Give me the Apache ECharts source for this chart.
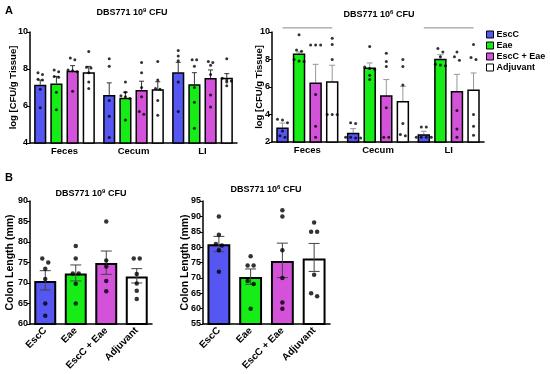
<!DOCTYPE html>
<html><head><meta charset="utf-8">
<script src="https://cdn.jsdelivr.net/npm/echarts@6/dist/echarts.min.js"></script>
<style>html,body{margin:0;padding:0;background:#fff}#c{width:550px;height:374px}</style>
</head><body><div id="c"></div>
<script>
const FONT = '"Liberation Sans", Arial, sans-serif';
const groups = ['EscC', 'Eae', 'EscC + Eae', 'Adjuvant'];
const colors = ['#5656f2', '#16ec16', '#d452da', '#ffffff'];
const catsA = ['Feces', 'Cecum', 'LI'];

// Panel A, 10^9 CFU  [group][category]
const a9Mean = [[7.15, 6.6, 7.82], [7.22, 6.45, 7.17], [7.9, 6.87, 7.51], [7.82, 6.9, 7.53]];
const a9Hi = [[7.4, 7.25, 8.36], [7.6, 6.75, 7.8], [8.18, 7.34, 7.95], [8.14, 7.31, 7.75]];
const a9Dots = [
  [[7.8, 7.7, 7.45, 7.4, 6.9, 5.9], [8.55, 8.15, 6.3, 5.45, 4.3], [9.0, 8.7, 8.45, 7.3, 5.7]],
  [[7.95, 7.85, 7.6, 7.55, 6.75, 5.8], [7.3, 6.75, 6.55, 6.5, 6.4, 5.25], [8.5, 8.5, 8.15, 7.0, 6.2, 4.8]],
  [[8.6, 8.5, 7.95, 7.9, 7.85, 6.8], [8.35, 7.8, 7.0, 6.5, 5.7, 5.55], [8.4, 8.35, 8.2, 7.7, 6.6, 5.95]],
  [[8.95, 8.1, 8.05, 7.8, 7.3, 6.95], [8.4, 7.4, 6.95, 6.9, 6.3, 5.5], [8.55, 7.5, 7.4, 7.35, 7.3, 7.1]]
];
// Panel A, 10^6 CFU
const a6Mean = [[3.05, 2.68, 2.56], [8.43, 7.41, 8.06], [6.32, 5.4, 5.71], [6.41, 4.98, 5.81]];
const a6Hi = [[3.38, 2.97, 2.78], [8.55, 7.75, 8.35], [7.65, 6.54, 6.92], [7.58, 6.05, 7.02]];
const a6Dots = [
  [[3.65, 3.6, 3.4, 2.8, 2.45, 2.35], [3.4, 3.35, 2.35, 2.3, 2.35, 2.3], [3.1, 3.1, 2.35, 2.35, 2.35, 2.35]],
  [[9.8, 8.7, 8.6, 8.0, 7.9, 7.85], [8.95, 7.45, 7.35, 7.3, 6.85, 6.55], [8.8, 8.55, 8.2, 7.65, 7.6, 7.55]],
  [[9.05, 9.05, 9.05, 5.45, 3.15, 2.35], [8.45, 7.85, 7.5, 4.5, 2.35, 2.35], [8.55, 8.2, 7.95, 4.3, 2.95, 2.35]],
  [[9.55, 9.1, 8.0, 4.0, 4.0, 4.0], [8.0, 7.5, 6.15, 3.35, 2.55, 2.45], [9.1, 8.15, 8.0, 4.0, 3.15, 2.5]]
];
const a6Sig = [0, 2]; // categories with significance bar (EscC vs Adjuvant)
const a6SigY = 10.3;

// Panel B, colon length
const b9Mean = [70.5, 72.3, 74.9, 71.6];
const b9Hi = [73.0, 74.4, 77.8, 73.5];
const b9Lo = [68.3, 70.5, 72.1, 70.0];
const b9Dots = [[76, 75, 73.5, 71, 65, 62], [79, 76, 72.3, 72.3, 69.8, 65], [85, 75.5, 74, 70.5, 68], [76, 76, 72.2, 69.9, 68.1, 66.1]];
const b6Mean = [80.9, 70.3, 75.5, 76.3];
const b6Hi = [83.5, 72.9, 81.3, 81.2];
const b6Lo = [78.5, 67.9, 70.1, 72.1];
const b6Dots = [[90, 84, 81, 80.5, 79, 72], [77, 74, 74, 69, 68, 60], [92, 90, 79, 70, 62, 60], [88, 85, 85, 71, 64, 65]];

const grids = [], xAxes = [], yAxes = [], series = [];

function addPanel(g, cats, ymin, ymax, yint, yname, nameGap, nameSize, labelSize, rotate) {
  const gi = grids.length;
  grids.push({left: g.left, top: g.top, width: g.width, height: g.height, containLabel: false});
  xAxes.push({
    type: 'category', gridIndex: gi, data: cats,
    axisLine: {onZero: false, lineStyle: {color: '#000', width: 1.5}},
    axisTick: {alignWithLabel: true, length: 3, lineStyle: {color: '#000', width: 1}},
    axisLabel: {color: '#000', fontFamily: FONT, fontWeight: 'bold', fontSize: labelSize, rotate: rotate, margin: rotate ? 5 : 3, interval: 0}
  });
  xAxes.push({type: 'value', gridIndex: gi, min: -0.5, max: cats.length - 0.5, show: false,
    axisLine: {onZero: false}});
  yAxes.push({
    type: 'value', gridIndex: gi, min: ymin, max: ymax, interval: yint,
    name: yname, nameLocation: 'middle', nameGap: nameGap, nameRotate: 90, nameMoveOverlap: false,
    nameTextStyle: {color: '#000', fontFamily: FONT, fontWeight: 'bold', fontSize: nameSize},
    axisLine: {show: true, onZero: false, lineStyle: {color: '#000', width: 1.5}},
    axisTick: {show: true, length: 3, lineStyle: {color: '#000', width: 1}},
    axisLabel: {color: '#000', fontFamily: FONT, fontWeight: 'bold', fontSize: 9, margin: 2},
    splitLine: {show: false}
  });
  return {gi: gi, xc: 2 * gi, xv: 2 * gi + 1, y: gi};
}

function swarm(vals, pxPerUnit, coll) {
  const idx = vals.map((v, i) => i).sort((a, b) => vals[b] - vals[a]);
  const off = new Array(vals.length).fill(0);
  let grp = [];
  const flush = () => { grp.forEach((j, k) => { off[j] = (k - (grp.length - 1) / 2) * coll; }); grp = []; };
  idx.forEach(j => {
    if (grp.length && (vals[grp[0]] - vals[j]) * pxPerUnit >= coll * 0.8) flush();
    grp.push(j);
  });
  flush();
  return off;
}

function errSeries(ax, data, color, cap, both, lw) {
  return {
    type: 'custom', xAxisIndex: ax.xv, yAxisIndex: ax.y, z: both ? 4 : 1, silent: true,
    data: data,
    renderItem: function (params, api) {
      const x = api.value(0);
      const ph = api.coord([x, api.value(2)]);
      const pl = api.coord([x, both ? api.value(3) : api.value(1)]);
      const st = {stroke: color, lineWidth: lw};
      const ch = [
        {type: 'line', shape: {x1: ph[0], y1: ph[1], x2: pl[0], y2: pl[1]}, style: st},
        {type: 'line', shape: {x1: ph[0] - cap, y1: ph[1], x2: ph[0] + cap, y2: ph[1]}, style: st}
      ];
      if (both) ch.push({type: 'line', shape: {x1: pl[0] - cap, y1: pl[1], x2: pl[0] + cap, y2: pl[1]}, style: st});
      return {type: 'group', children: ch};
    }
  };
}

function panelA(g, mean, hi, dots, ymin, ymax, yname, nameGap, errColor, cap, dotSize, coll) {
  const ax = addPanel(g, catsA, ymin, ymax, 2, yname, nameGap, 9.5, 9.5, 0);
  const n = groups.length, cg = 0.12, bg = 0.33;
  const w = (1 - cg) / (n + (n - 1) * bg);
  const offs = groups.map((_, s) => (s - (n - 1) / 2) * w * (1 + bg));
  const bandPx = g.width / catsA.length;
  const pxPerUnit = g.height / (ymax - ymin);
  const errData = [], dotData = [];
  groups.forEach((name, s) => {
    series.push({
      type: 'bar', name: name, xAxisIndex: ax.xc, yAxisIndex: ax.y, data: mean[s],
      barGap: (bg * 100) + '%', barCategoryGap: (cg * 100) + '%', z: 2,
      itemStyle: {color: colors[s], borderColor: '#000', borderWidth: 1.5}
    });
    catsA.forEach((c, ci) => {
      errData.push([ci + offs[s], mean[s][ci], hi[s][ci]]);
      const o = swarm(dots[s][ci], pxPerUnit, coll);
      dots[s][ci].forEach((v, k) => dotData.push([ci + offs[s] + o[k] / bandPx, v]));
    });
  });
  series.push(errSeries(ax, errData, errColor, cap, false, 1));
  series.push({type: 'scatter', xAxisIndex: ax.xv, yAxisIndex: ax.y, data: dotData, symbolSize: dotSize,
    itemStyle: {color: '#000'}, z: 5, silent: true});
  return {ax: ax, offs: offs};
}

function panelB(g, mean, hi, lo, dots, ymin, ymax, nameGap) {
  const ax = addPanel(g, groups, ymin, ymax, 5, 'Colon Length (mm)', nameGap, 10.5, 10, 45);
  const bandPx = g.width / groups.length;
  const pxPerUnit = g.height / (ymax - ymin);
  series.push({
    type: 'bar', xAxisIndex: ax.xc, yAxisIndex: ax.y, barCategoryGap: '28%', z: 2,
    data: mean.map((v, i) => ({value: v, itemStyle: {color: colors[i]}})),
    itemStyle: {borderColor: '#000', borderWidth: 2}
  });
  series.push(errSeries(ax, mean.map((v, i) => [i, v, hi[i], lo[i]]), '#444', 5.5, true, 1));
  const dotData = [];
  dots.forEach((arr, i) => {
    const o = swarm(arr, pxPerUnit, 6);
    arr.forEach((v, k) => dotData.push([i + o[k] / bandPx, v]));
  });
  series.push({type: 'scatter', xAxisIndex: ax.xv, yAxisIndex: ax.y, data: dotData, symbolSize: 4.5,
    itemStyle: {color: '#000'}, z: 5, silent: true});
}

panelA({left: 30, top: 32, width: 207, height: 111}, a9Mean, a9Hi, a9Dots, 4, 10, 'log [CFU/g Tissue]', 12, '#333', 2.5, 3, 4.5);
const pa6 = panelA({left: 272, top: 32, width: 212, height: 110}, a6Mean, a6Hi, a6Dots, 2, 10, 'log [CFU/g Tissue]', 8, '#999', 3, 3, 5);
panelB({left: 30, top: 201, width: 122, height: 123}, b9Mean, b9Hi, b9Lo, b9Dots, 60, 90, 14);
panelB({left: 203, top: 201, width: 127, height: 123}, b6Mean, b6Hi, b6Lo, b6Dots, 55, 95, 12);

// significance bars in A (10^6)
a6Sig.forEach(ci => {
  series.push({type: 'line', xAxisIndex: pa6.ax.xv, yAxisIndex: pa6.ax.y, clip: false, silent: true,
    symbol: 'none', lineStyle: {color: '#888', width: 1}, z: 3,
    data: [[ci + pa6.offs[0], a6SigY], [ci + pa6.offs[3], a6SigY]]});
  series.push({type: 'scatter', xAxisIndex: pa6.ax.xv, yAxisIndex: pa6.ax.y, clip: false, silent: true,
    symbolSize: 1, itemStyle: {opacity: 0}, z: 3,
    label: {show: true, position: 'inside', formatter: '*', color: '#000', fontFamily: FONT, fontWeight: 'bold', fontSize: 9},
    data: [[ci, a6SigY]]});
});

function title(x, y, exp) {
  return {type: 'text', x: x, y: y, z: 10,
    style: {text: '{b|DBS771 10}{s|' + exp + '}{b| CFU}', align: 'center', verticalAlign: 'middle',
      rich: {b: {fontFamily: FONT, fontWeight: 'bold', fontSize: 9, fill: '#000', lineHeight: 12},
             s: {fontFamily: FONT, fontWeight: 'bold', fontSize: 6, fill: '#000', verticalAlign: 'top', lineHeight: 12}}}};
}

const chart = echarts.init(document.getElementById('c'), null, {renderer: 'canvas'});
chart.setOption({
  animation: false,
  backgroundColor: '#fff',
  grid: grids, xAxis: xAxes, yAxis: yAxes, series: series,
  legend: {
    data: groups, orient: 'vertical', left: 486, top: 29, itemWidth: 7, itemHeight: 7, itemGap: 0,
    icon: 'rect', selectedMode: false, padding: 0,
    itemStyle: {borderColor: '#000', borderWidth: 1},
    textStyle: {color: '#000', fontFamily: FONT, fontWeight: 'bold', fontSize: 9, lineHeight: 11, padding: [0, 0, 0, -2]}
  },
  graphic: [
    {type: 'text', x: 5, y: 5, style: {text: 'A', fontFamily: FONT, fontWeight: 'bold', fontSize: 11, fill: '#000'}},
    {type: 'text', x: 5, y: 172, style: {text: 'B', fontFamily: FONT, fontWeight: 'bold', fontSize: 11, fill: '#000'}},
    title(132, 13, '9'),
    title(379, 15, '6'),
    title(91, 194, '9'),
    title(266, 190, '6')
  ]
});
</script></body></html>
